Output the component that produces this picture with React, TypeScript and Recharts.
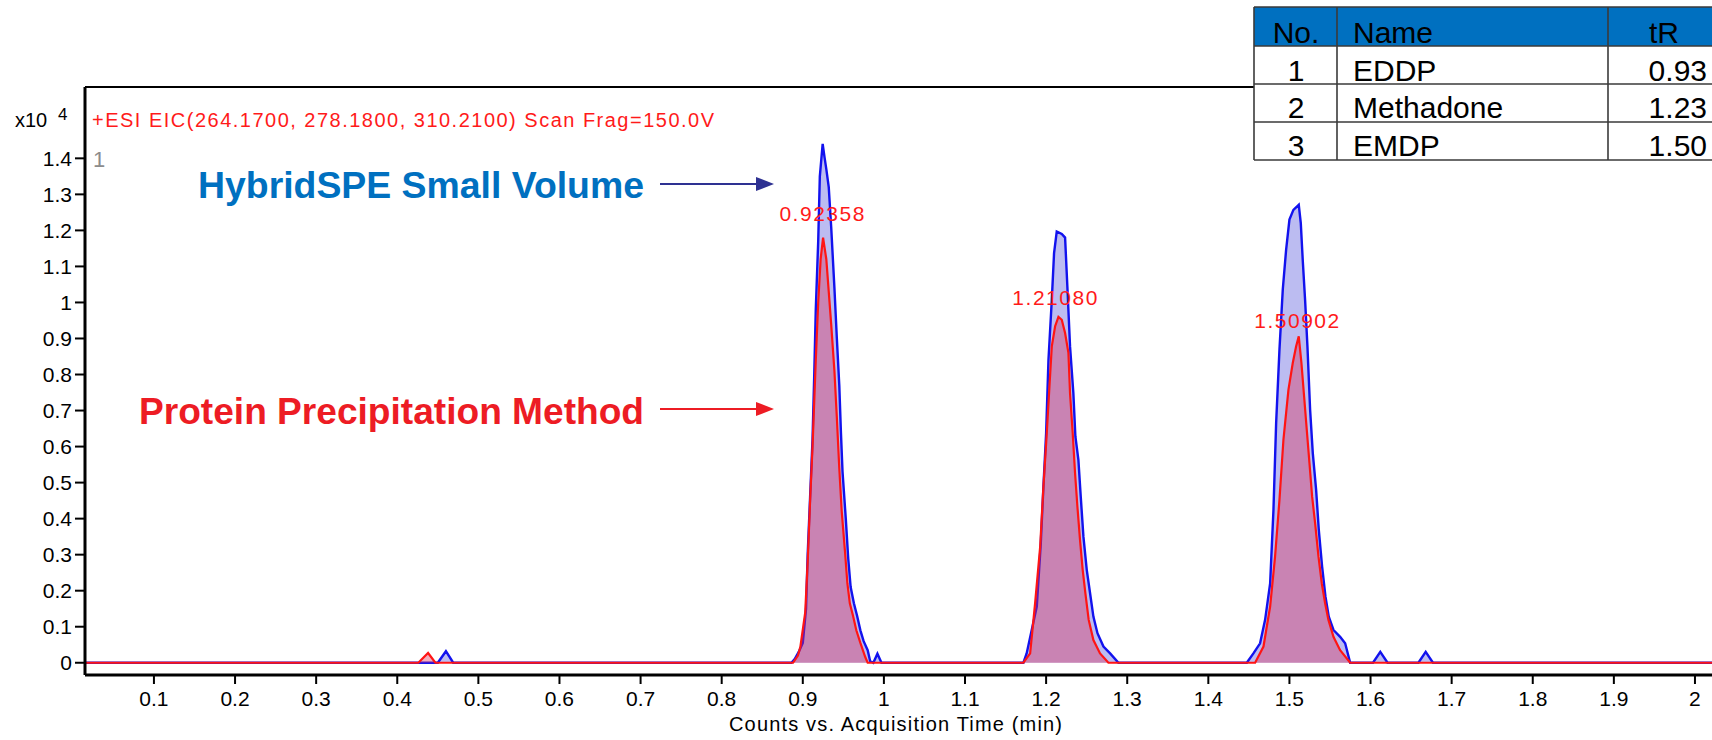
import { ComposedChart, Area, XAxis, YAxis, ReferenceLine, ReferenceDot } from 'recharts'

// retention time (min) / counts (x10^4)
const blueTime = [
  0.015, 0.45, 0.46, 0.469,
  0.886, 0.89, 0.895, 0.9, 0.904, 0.906, 0.909, 0.912, 0.914, 0.916, 0.919, 0.921, 0.9245, 0.927, 0.929, 0.932,
  0.935, 0.939, 0.942, 0.945, 0.947, 0.949, 0.953, 0.956, 0.959, 0.963, 0.967, 0.971, 0.975, 0.98, 0.983, 0.987,
  0.992, 0.997,
  1.172, 1.176, 1.1885, 1.1934, 1.1967, 1.2, 1.2029, 1.207, 1.2098, 1.2131, 1.2193, 1.2234, 1.2262, 1.2295,
  1.2336, 1.2361, 1.2398, 1.2427, 1.246, 1.2501, 1.2542, 1.2583, 1.2633, 1.2707, 1.2789, 1.2892,
  1.4474, 1.4556, 1.4638, 1.47, 1.4762, 1.4803, 1.4836, 1.4877, 1.4918, 1.4959, 1.5, 1.5049, 1.5115, 1.514,
  1.5164, 1.5193, 1.5222, 1.5255, 1.5288, 1.5329, 1.5362, 1.5403, 1.5444, 1.5485, 1.5543, 1.5625, 1.5687, 1.5749,
  1.603, 1.612, 1.621, 1.659, 1.668, 1.677, 2.021,
]
const blueCounts = [
  0, 0, 0.032, 0,
  0, 0.01, 0.03, 0.055, 0.15, 0.3, 0.46, 0.62, 0.79, 0.98, 1.17, 1.35, 1.44, 1.4, 1.37, 1.32,
  1.21, 1.04, 0.9, 0.77, 0.64, 0.53, 0.4, 0.29, 0.21, 0.165, 0.13, 0.09, 0.06, 0.035, 0.005, 0,
  0.025, 0,
  0, 0.026, 0.156, 0.33, 0.49, 0.637, 0.841, 1.007, 1.137, 1.197, 1.19, 1.18, 1.044, 0.878,
  0.748, 0.628, 0.563, 0.461, 0.35, 0.258, 0.193, 0.128, 0.082, 0.045, 0.026, 0,
  0, 0.026, 0.054, 0.119, 0.22, 0.424, 0.665, 0.869, 1.036, 1.146, 1.23, 1.257, 1.271, 1.22,
  1.118, 1.007, 0.878, 0.702, 0.582, 0.48, 0.369, 0.267, 0.184, 0.128, 0.091, 0.072, 0.054, 0,
  0, 0.03, 0, 0, 0.03, 0, 0,
]

const redTime = [
  0.015, 0.426, 0.438, 0.447,
  0.888, 0.894, 0.897, 0.903, 0.906, 0.909, 0.912, 0.916, 0.919, 0.922, 0.925, 0.929, 0.932, 0.935, 0.939,
  0.942, 0.945, 0.948, 0.952, 0.955, 0.958, 0.962, 0.966, 0.971, 0.977, 0.98,
  1.172, 1.1803, 1.1864, 1.1926, 1.1967, 1.2008, 1.2041, 1.207, 1.2111, 1.2152, 1.2193, 1.2234, 1.2275, 1.2295,
  1.2328, 1.2357, 1.2386, 1.2418, 1.2451, 1.2484, 1.2525, 1.2583, 1.2665, 1.2768,
  1.4577, 1.468, 1.4762, 1.4823, 1.4877, 1.4926, 1.4988, 1.5041, 1.5082, 1.5115, 1.5148, 1.5181, 1.5214, 1.5247,
  1.528, 1.5317, 1.5358, 1.5399, 1.544, 1.5481, 1.5543, 1.5625, 1.5749, 2.021,
]
const redCounts = [
  0, 0, 0.027, 0,
  0, 0.02, 0.044, 0.14, 0.28, 0.45, 0.6, 0.84, 1.0, 1.12, 1.18, 1.12, 1.03, 0.94, 0.81,
  0.68, 0.54, 0.42, 0.31, 0.22, 0.165, 0.13, 0.09, 0.055, 0.016, 0,
  0, 0.026, 0.165, 0.32, 0.49, 0.637, 0.767, 0.878, 0.934, 0.96, 0.952, 0.915, 0.86, 0.748,
  0.637, 0.526, 0.433, 0.341, 0.258, 0.193, 0.119, 0.063, 0.026, 0,
  0, 0.045, 0.156, 0.295, 0.452, 0.619, 0.758, 0.832, 0.878, 0.906, 0.832, 0.739, 0.646, 0.554,
  0.461, 0.387, 0.295, 0.22, 0.165, 0.119, 0.072, 0.035, 0, 0,
]

const xTicks = [0.1, 0.2, 0.3, 0.4, 0.5, 0.6, 0.7, 0.8, 0.9, 1, 1.1, 1.2, 1.3, 1.4, 1.5, 1.6, 1.7, 1.8, 1.9, 2]
const yTicks = [0, 0.1, 0.2, 0.3, 0.4, 0.5, 0.6, 0.7, 0.8, 0.9, 1, 1.1, 1.2, 1.3, 1.4]

const peakTimes = [0.92358, 1.2108, 1.50902]
const peakLabelY = [1.245, 1.012, 0.948]

const tableHead = ['No.', 'Name', 'tR']
const tableNo = ['1', '2', '3']
const tableName = ['EDDP', 'Methadone', 'EMDP']
const tableTR = ['0.93', '1.23', '1.50']

const X_MIN = 0.015
const X_MAX = 2.021
const Y_MIN = -0.034
const Y_MAX = 1.598

const FONT = "'Liberation Sans', Arial, sans-serif"

type Row = { t: number; blue: number | null; red: number | null }

const rowMap = new Map<number, Row>()
blueTime.forEach((t, i) => {
  const r = rowMap.get(t) ?? { t, blue: null, red: null }
  r.blue = blueCounts[i]
  rowMap.set(t, r)
})
redTime.forEach((t, i) => {
  const r = rowMap.get(t) ?? { t, blue: null, red: null }
  r.red = redCounts[i]
  rowMap.set(t, r)
})
const rows = [...rowMap.values()].sort((a, b) => a.t - b.t)

const fmt = (v: number) => String(Number(v.toFixed(1)))

function PeakLabel(props: any) {
  const vb = props.viewBox || { x: 0, y: 0, width: 0, height: 0 }
  const cx = vb.x + (vb.width || 0) / 2
  const cy = vb.y + (vb.height || 0) / 2
  return (
    <text x={cx} y={cy + 7} textAnchor="middle" fontSize={21} fill="#FF1A1A" fontFamily={FONT}
      textLength={85} lengthAdjust="spacing">
      {props.text}
    </text>
  )
}

function Overlay() {
  const colX = [1254, 1337, 1608, 1722]
  const rowY = [7, 46, 84, 122, 160]
  const bodyBase = [80.5, 118, 156]
  return (
    <svg width={1712} height={740} style={{ position: 'absolute', left: 0, top: 0, pointerEvents: 'none' }}
      fontFamily={FONT}>
      {/* axis multiplier + scan header */}
      <text x={15} y={127} fontSize={20} fill="#000">x10</text>
      <text x={58} y={120} fontSize={17} fill="#000">4</text>
      <text x={92} y={127} fontSize={20} fill="#FF1A1A" textLength={622} lengthAdjust="spacing">
        +ESI EIC(264.1700, 278.1800, 310.2100) Scan Frag=150.0V
      </text>
      <text x={93} y={167} fontSize={22} fill="#8c8c8c">1</text>

      {/* annotations */}
      <text x={198} y={198} fontSize={37} fontWeight={700} fill="#0070C0" textLength={446} lengthAdjust="spacingAndGlyphs">
        HybridSPE Small Volume
      </text>
      <line x1={660} y1={184} x2={758} y2={184} stroke="#2E3192" strokeWidth={2} />
      <polygon points="756,177 774,184 756,191" fill="#2E3192" />
      <text x={139} y={424} fontSize={37} fontWeight={700} fill="#ED1C24" textLength={505} lengthAdjust="spacingAndGlyphs">
        Protein Precipitation Method
      </text>
      <line x1={660} y1={409} x2={758} y2={409} stroke="#ED1C24" strokeWidth={2} />
      <polygon points="756,402 774,409 756,416" fill="#ED1C24" />

      {/* x axis title */}
      <text x={729} y={731} fontSize={20} fill="#000" textLength={333} lengthAdjust="spacing">
        Counts vs. Acquisition Time (min)
      </text>

      {/* compound table */}
      <rect x={colX[0]} y={rowY[0]} width={colX[3] - colX[0]} height={rowY[4] - rowY[0]} fill="#fff" />
      <rect x={colX[0]} y={rowY[0]} width={colX[3] - colX[0]} height={rowY[1] - rowY[0]} fill="#0070C0" />
      {rowY.map((y) => (
        <line key={'h' + y} x1={colX[0]} y1={y} x2={colX[3]} y2={y} stroke="#3a3a3a" strokeWidth={1.6} />
      ))}
      {colX.map((x) => (
        <line key={'v' + x} x1={x} y1={rowY[0]} x2={x} y2={rowY[4]} stroke="#3a3a3a" strokeWidth={1.6} />
      ))}
      <g fontSize={30} fill="#000">
        <text x={1296} y={43} textAnchor="middle">{tableHead[0]}</text>
        <text x={1353} y={43}>{tableHead[1]}</text>
        <text x={1664} y={43} textAnchor="middle">{tableHead[2]}</text>
        {tableNo.map((n, i) => (
          <g key={n}>
            <text x={1296} y={bodyBase[i]} textAnchor="middle">{n}</text>
            <text x={1353} y={bodyBase[i]}>{tableName[i]}</text>
            <text x={1707} y={bodyBase[i]} textAnchor="end">{tableTR[i]}</text>
          </g>
        ))}
      </g>
    </svg>
  )
}

export default function App() {
  const tickStyle = { fontSize: 21, fill: '#000', fontFamily: FONT }
  return (
    <div style={{ position: 'absolute', left: 0, top: 0, width: 1712, height: 740, background: '#fff', overflow: 'hidden' }}>
      <ComposedChart width={1712} height={740} data={rows} margin={{ top: 87, right: 0, bottom: 0, left: 0 }}>
        <XAxis
          dataKey="t"
          type="number"
          domain={[X_MIN, X_MAX]}
          ticks={xTicks}
          allowDataOverflow
          interval={0}
          height={65}
          tickSize={9}
          tickMargin={7}
          tickFormatter={fmt}
          tick={tickStyle}
          axisLine={{ stroke: '#000', strokeWidth: 3 }}
          tickLine={{ stroke: '#000', strokeWidth: 2 }}
        />
        <YAxis
          type="number"
          domain={[Y_MIN, Y_MAX]}
          ticks={yTicks}
          allowDataOverflow
          interval={0}
          width={85}
          tickSize={10}
          tickMargin={3}
          tickFormatter={fmt}
          tick={tickStyle}
          axisLine={{ stroke: '#000', strokeWidth: 3 }}
          tickLine={{ stroke: '#000', strokeWidth: 2 }}
        />
        <ReferenceLine y={Y_MAX} stroke="#000" strokeWidth={2} />
        <Area
          type="linear"
          dataKey="blue"
          baseValue={0}
          connectNulls
          stroke="#1212EE"
          strokeWidth={2.4}
          fill="#2020D0"
          fillOpacity={0.3}
          dot={false}
          activeDot={false}
          isAnimationActive={false}
        />
        <Area
          type="linear"
          dataKey="red"
          baseValue={0}
          connectNulls
          stroke="#FF1414"
          strokeWidth={2.2}
          fill="#E02850"
          fillOpacity={0.38}
          dot={false}
          activeDot={false}
          isAnimationActive={false}
        />
        {peakTimes.map((t, i) => (
          <ReferenceDot
            key={t}
            x={t}
            y={peakLabelY[i]}
            r={0}
            fill="none"
            stroke="none"
            label={<PeakLabel text={t.toFixed(5)} />}
          />
        ))}
      </ComposedChart>
      <Overlay />
    </div>
  )
}
